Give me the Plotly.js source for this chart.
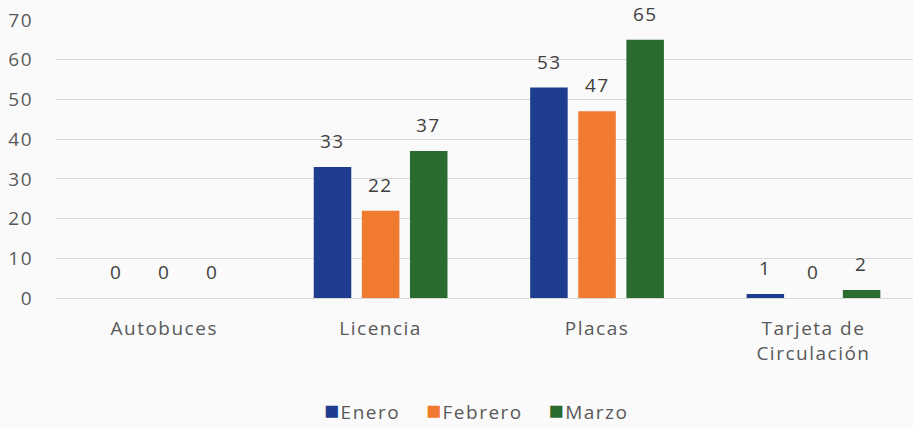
<!DOCTYPE html>
<html><head><meta charset="utf-8">
<script src="https://cdn.plot.ly/plotly-3.0.1.min.js"></script>
<style>html,body{margin:0;padding:0;background:#fafafa;overflow:hidden}
svg text{letter-spacing:1.5px}</style>
</head><body><div id="chart" style="width:913px;height:428px"></div>
<script>
const categories = ["Autobuces", "Licencia", "Placas", "Tarjeta de<br>Circulación"];
const seriesNames = ["Enero", "Febrero", "Marzo"];
const enero = [0, 33, 53, 1];
const febrero = [0, 22, 47, 0];
const marzo = [0, 37, 65, 2];
const colors = ["#1f3d8e", "#ef7a30", "#2b6b30"];
const yTicks = [0, 10, 20, 30, 40, 50, 60, 70];

const FONT = "Open Sans, sans-serif";
const values = [enero, febrero, marzo];
const traces = values.map((v, i) => ({
  type: "bar", name: seriesNames[i], x: categories, y: v,
  marker: {color: colors[i]}, hoverinfo: "none"
}));
const shifts = [-48, 0, 48];
const annotations = [];
values.forEach((v, i) => v.forEach((val, j) => {
  annotations.push({x: categories[j], y: val, xref: "x", yref: "y", text: String(val),
    showarrow: false, xshift: shifts[i], yshift: 26, yanchor: "middle",
    font: {family: FONT, size: 19, color: "#404040"}});
}));
// legend drawn as one centred line of text
const legendText = seriesNames.map((n, i) =>
  '<span style="color:' + colors[i] + ';font-size:25px">■</span>' + n).join('&nbsp;&nbsp;&nbsp;&nbsp;');
annotations.push({xref: "paper", yref: "paper", x: 0.49, y: -0.40, xanchor: "center", yanchor: "middle",
  showarrow: false, text: legendText, font: {family: FONT, size: 19, color: "#595959"}});

Plotly.newPlot("chart", traces, {
  width: 913, height: 428,
  paper_bgcolor: "#fafafa", plot_bgcolor: "#fafafa",
  margin: {l: 56, r: 0, t: 20, b: 130},
  barmode: "group", bargap: 0.333, bargroupgap: 0.22,
  font: {family: FONT, size: 19, color: "#595959"},
  xaxis: {range: [-0.5, 3.46], showgrid: false, zeroline: false, showline: false,
    ticklabelstandoff: 17, tickfont: {size: 19, color: "#595959"}},
  yaxis: {range: [0, 70], tickvals: yTicks, showgrid: true, gridcolor: "#d9d9d9",
    zeroline: true, zerolinecolor: "#d9d9d9", showline: false, ticklabelstandoff: 22,
    tickfont: {size: 19, color: "#595959"}},
  showlegend: false,
  annotations: annotations
}, {displayModeBar: false, staticPlot: true});
</script></body></html>
